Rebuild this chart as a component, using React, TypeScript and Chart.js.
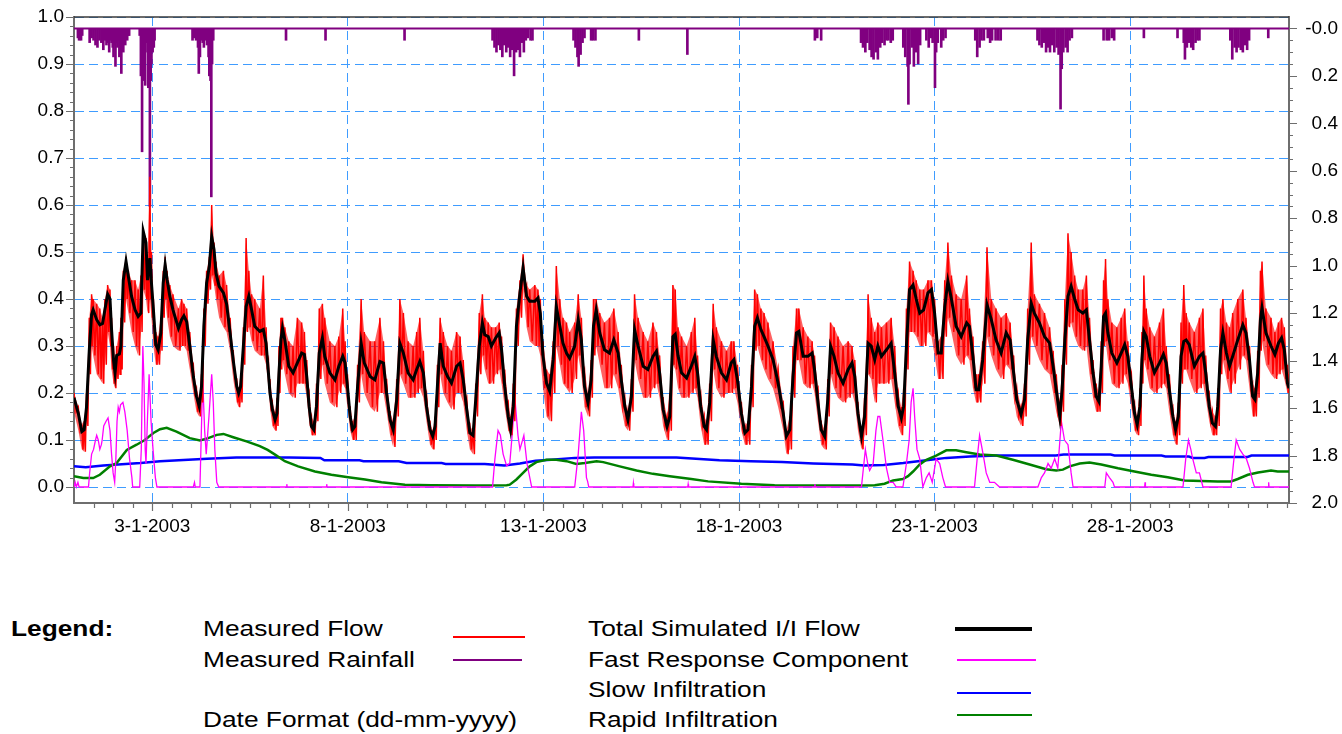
import React, { useEffect, useRef } from "react";
import { Chart, registerables } from "chart.js";

Chart.register(...registerables);

const FONT = "'Liberation Sans', Arial, Helvetica, sans-serif";

// x axis: days since 1-1-2003 00:00
const X_MAX = 31.06;
const xTickDays = [2, 7, 12, 17, 22, 27];
const xTickLabels = ["3-1-2003", "8-1-2003", "13-1-2003", "18-1-2003", "23-1-2003", "28-1-2003"];
const flowTicks = [0, 0.1, 0.2, 0.3, 0.4, 0.5, 0.6, 0.7, 0.8, 0.9, 1.0];
const rainTicks = [0, 0.2, 0.4, 0.6, 0.8, 1.0, 1.2, 1.4, 1.6, 1.8, 2.0];

// Total Simulated I/I Flow [day, value]
const simulatedFlow: number[][] = [
  [0,.19],[.11,.157],[.2,.118],[.26,.122],[.32,.17],[.39,.29],[.45,.367],[.49,.377],[.58,.356],[.66,.345],[.73,.348],[.79,.377],[.86,.41],[.92,.4],[.96,.335],[1.01,.27],[1.05,.243],[1.09,.28],[1.16,.283],[1.2,.3],[1.26,.44],[1.33,.48],[1.39,.448],[1.47,.406],[1.56,.377],[1.64,.363],[1.71,.37],[1.77,.544],[1.84,.52],[1.88,.44],[1.94,.487],[1.98,.434],[2.03,.377],[2.09,.303],[2.15,.292],[2.22,.328],[2.28,.434],[2.33,.473],[2.38,.441],[2.45,.406],[2.53,.377],[2.67,.338],[2.75,.356],[2.81,.364],[2.88,.352],[2.96,.3],[3.05,.235],[3.13,.193],[3.2,.172],[3.26,.214],[3.32,.342],[3.39,.434],[3.46,.47],[3.52,.533],[3.58,.505],[3.63,.455],[3.71,.427],[3.82,.413],[3.9,.39],[3.99,.328],[4.07,.27],[4.16,.214],[4.21,.2],[4.26,.214],[4.33,.3],[4.4,.384],[4.47,.406],[4.54,.377],[4.62,.342],[4.75,.331],[4.84,.335],[4.91,.306],[4.97,.243],
  [5.01,.2],[5.07,.165],[5.14,.143],[5.19,.157],[5.24,.243],[5.29,.313],[5.33,.338],[5.39,.313],[5.49,.257],[5.6,.243],[5.71,.264],[5.82,.285],[5.89,.282],[5.95,.235],[6.01,.172],[6.07,.129],[6.13,.122],[6.2,.172],[6.27,.285],[6.35,.317],[6.41,.278],[6.54,.243],[6.67,.228],[6.77,.257],[6.87,.278],[6.93,.264],[6.99,.214],[7.06,.15],[7.12,.122],[7.18,.129],[7.25,.214],[7.34,.306],[7.42,.264],[7.57,.235],[7.69,.228],[7.82,.267],[7.91,.264],[7.99,.2],[8.08,.143],[8.16,.122],[8.25,.186],[8.33,.306],[8.42,.285],[8.54,.243],[8.67,.228],[8.76,.25],[8.84,.267],[8.93,.243],[9.01,.172],[9.1,.122],[9.17,.108],[9.23,.129],[9.29,.214],[9.36,.306],[9.44,.257],[9.55,.235],[9.65,.221],[9.78,.257],[9.87,.264],[9.95,.228],[10.04,.165],[10.12,.115],[10.2,.11],
  [10.27,.186],[10.36,.3],[10.44,.349],[10.5,.324],[10.59,.32],[10.67,.3],[10.78,.317],[10.87,.328],[10.93,.292],[11.01,.214],[11.1,.15],[11.16,.122],[11.23,.172],[11.31,.342],[11.4,.413],[11.48,.466],[11.57,.406],[11.65,.395],[11.78,.395],[11.86,.402],[11.92,.37],[11.99,.278],[12.08,.221],[12.16,.204],[12.25,.271],[12.33,.384],[12.42,.342],[12.5,.306],[12.59,.285],[12.67,.274],[12.8,.3],[12.89,.356],[12.97,.313],[13.05,.214],[13.14,.179],[13.22,.228],[13.28,.342],[13.35,.377],[13.44,.328],[13.56,.292],[13.69,.285],[13.8,.313],[13.91,.285],[13.99,.228],[14.08,.172],[14.16,.143],[14.25,.193],[14.33,.335],[14.42,.3],[14.55,.257],[14.67,.25],[14.8,.278],[14.89,.289],[14.97,.243],[15.06,.165],[15.16,.129],[15.23,.15],[15.31,.32],[15.37,.325],[15.44,.28],[15.53,.243],
  [15.66,.232],[15.78,.257],[15.87,.278],[15.94,.243],[16.02,.172],[16.11,.129],[16.17,.122],[16.25,.179],[16.34,.313],[16.42,.278],[16.55,.243],[16.68,.228],[16.8,.264],[16.87,.271],[16.96,.228],[17.06,.157],[17.15,.115],[17.23,.122],[17.32,.214],[17.4,.342],[17.47,.36],[17.56,.335],[17.64,.32],[17.74,.3],[17.87,.271],[18,.221],[18.13,.157],[18.21,.108],[18.3,.122],[18.38,.235],[18.47,.328],[18.53,.331],[18.64,.278],[18.76,.278],[18.87,.285],[18.93,.25],[19.02,.179],[19.1,.122],[19.19,.108],[19.27,.186],[19.34,.3],[19.43,.278],[19.53,.243],[19.66,.221],[19.79,.25],[19.89,.264],[19.96,.235],[20.04,.157],[20.13,.108],[20.21,.15],[20.3,.306],[20.38,.3],[20.47,.271],[20.55,.3],
  [20.64,.278],[20.77,.292],[20.89,.306],[20.98,.243],[21.07,.172],[21.15,.147],[21.21,.172],[21.28,.3],[21.36,.42],[21.45,.43],[21.53,.4],[21.62,.37],[21.72,.377],[21.83,.413],[21.92,.42],[22,.37],[22.09,.285],[22.17,.285],[22.26,.384],[22.34,.438],[22.43,.4],[22.55,.342],[22.68,.32],[22.82,.349],[22.89,.342],[22.98,.278],[23.06,.207],[23.13,.207],[23.23,.271],[23.34,.388],[23.45,.356],[23.57,.313],[23.7,.285],[23.83,.328],[23.93,.313],[24.02,.243],[24.1,.186],[24.21,.154],[24.3,.186],[24.38,.313],[24.47,.391],[24.55,.37],[24.68,.349],[24.81,.32],[24.94,.306],[25.03,.257],[25.11,.207],[25.2,.15],[25.26,.207],[25.33,.313],[25.41,.406],[25.49,.427],[25.58,.4],[25.67,.377],[25.79,.37],
  [25.88,.377],[25.96,.313],[26.05,.243],[26.13,.193],[26.2,.182],[26.26,.257],[26.32,.363],[26.37,.37],[26.43,.328],[26.53,.285],[26.66,.264],[26.77,.285],[26.86,.303],[26.94,.278],[27.03,.214],[27.11,.157],[27.18,.133],[27.25,.172],[27.3,.271],[27.35,.331],[27.41,.32],[27.5,.278],[27.62,.243],[27.75,.264],[27.85,.282],[27.92,.264],[28,.207],[28.09,.15],[28.16,.122],[28.23,.15],[28.3,.278],[28.37,.31],[28.43,.313],[28.51,.303],[28.64,.257],[28.77,.278],[28.86,.285],[28.93,.243],[29.02,.172],[29.1,.136],[29.18,.129],[29.24,.172],[29.31,.292],[29.37,.328],[29.46,.285],[29.54,.257],[29.62,.278],[29.75,.313],[29.88,.345],[29.96,.328],[30.05,.271],[30.13,.193],[30.19,.186],[30.26,.243],[30.33,.356],[30.37,.381],[30.47,.328],[30.6,.3],[30.7,.282],[30.79,.306],[30.87,.317],[30.94,.292],[31.02,.221],[31.06,.21]
];

// Measured Flow [day, upper spike, lower spike]
const measuredFlow: number[][] = [
  [0,.2,.16],[.11,.17,.12],[.2,.13,.08],[.26,.14,.075],[.32,.2,.13],[.39,.36,.24],[.45,.41,.3],[.49,.4,.28],[.58,.39,.24],[.66,.38,.23],[.73,.36,.22],[.79,.4,.26],[.86,.43,.33],[.92,.42,.3],[.96,.36,.25],[1.01,.3,.22],[1.05,.26,.21],[1.09,.3,.23],[1.16,.33,.24],[1.2,.36,.25],[1.26,.46,.35],[1.33,.49,.4],[1.39,.46,.37],[1.47,.44,.33],[1.56,.44,.3],[1.64,.42,.28],[1.71,.45,.33],[1.77,.55,.42],[1.84,.53,.4],[1.88,.48,.37],[1.94,.66,.4],[1.98,.5,.36],[2.03,.4,.3],[2.09,.33,.26],[2.15,.32,.26],[2.22,.36,.29],[2.28,.46,.36],[2.33,.49,.4],[2.38,.46,.36],[2.45,.43,.32],[2.53,.41,.3],[2.67,.38,.29],[2.75,.4,.3],[2.81,.39,.3],[2.88,.38,.29],[2.96,.33,.25],[3.05,.26,.2],[3.13,.21,.16],[3.2,.19,.15],[3.26,.24,.18],[3.32,.38,.3],[3.39,.46,.39],[3.46,.49,.42],[3.52,.6,.45],[3.58,.52,.43],[3.63,.48,.4],[3.71,.45,.36],[3.82,.46,.34],[3.9,.43,.33],[3.99,.36,.29],[4.07,.29,.23],[4.16,.23,.18],[4.21,.21,.17],[4.26,.23,.18],[4.33,.34,.26],[4.4,.53,.33],[4.47,.46,.34],[4.54,.41,.31],[4.62,.4,.29],[4.75,.38,.28],[4.84,.45,.28],[4.91,.34,.26],[4.97,.27,.21],
  [5.01,.23,.17],[5.07,.18,.13],[5.14,.16,.12],[5.19,.19,.13],[5.24,.3,.2],[5.29,.36,.25],[5.33,.36,.27],[5.39,.34,.24],[5.49,.31,.2],[5.6,.3,.19],[5.71,.36,.22],[5.82,.35,.22],[5.89,.33,.22],[5.95,.27,.19],[6.01,.2,.14],[6.07,.15,.11],[6.13,.14,.11],[6.2,.22,.14],[6.27,.38,.23],[6.35,.39,.26],[6.41,.36,.22],[6.54,.31,.18],[6.67,.3,.17],[6.77,.32,.2],[6.87,.38,.22],[6.93,.31,.21],[6.99,.24,.17],[7.06,.17,.12],[7.12,.14,.1],[7.18,.15,.1],[7.25,.26,.18],[7.34,.4,.24],[7.42,.33,.2],[7.57,.31,.17],[7.69,.31,.16],[7.82,.36,.2],[7.91,.31,.2],[7.99,.23,.16],[8.08,.16,.11],[8.16,.14,.085],[8.25,.23,.15],[8.33,.4,.24],[8.42,.37,.22],[8.54,.31,.19],[8.67,.3,.19],[8.76,.33,.2],[8.84,.36,.21],[8.93,.29,.19],[9.01,.2,.14],[9.1,.14,.09],[9.17,.12,.08],[9.23,.15,.1],[9.29,.26,.17],[9.36,.36,.24],[9.44,.33,.2],[9.55,.3,.18],[9.65,.29,.165],[9.78,.33,.2],[9.87,.32,.2],[9.95,.27,.18],[10.04,.19,.12],[10.12,.13,.08],[10.2,.12,.07],
  [10.27,.22,.15],[10.36,.37,.24],[10.44,.41,.28],[10.5,.36,.25],[10.59,.35,.22],[10.67,.34,.22],[10.78,.34,.24],[10.87,.35,.25],[10.93,.32,.22],[11.01,.25,.17],[11.1,.18,.12],[11.16,.15,.11],[11.23,.22,.14],[11.31,.38,.3],[11.4,.44,.36],[11.48,.495,.42],[11.57,.43,.34],[11.65,.42,.31],[11.78,.43,.3],[11.86,.42,.3],[11.92,.4,.28],[11.99,.31,.21],[12.08,.25,.15],[12.16,.24,.14],[12.25,.31,.2],[12.33,.47,.3],[12.42,.4,.26],[12.5,.36,.22],[12.59,.35,.21],[12.67,.33,.2],[12.8,.35,.23],[12.89,.41,.28],[12.97,.36,.24],[13.05,.25,.17],[13.14,.2,.15],[13.22,.27,.19],[13.28,.4,.28],[13.35,.4,.3],[13.44,.37,.26],[13.56,.35,.21],[13.69,.36,.21],[13.8,.38,.24],[13.91,.33,.21],[13.99,.26,.17],[14.08,.19,.13],[14.16,.16,.12],[14.25,.23,.16],[14.33,.41,.27],[14.42,.36,.23],[14.55,.33,.19],[14.67,.31,.19],[14.8,.35,.21],[14.89,.33,.22],[14.97,.28,.19],[15.06,.19,.13],[15.16,.15,.1],[15.23,.2,.12],[15.31,.43,.26],[15.37,.42,.25],[15.44,.34,.21],[15.53,.32,.19],
  [15.66,.3,.19],[15.78,.33,.2],[15.87,.36,.21],[15.94,.28,.19],[16.02,.2,.13],[16.11,.15,.09],[16.17,.14,.09],[16.25,.22,.14],[16.34,.39,.25],[16.42,.34,.21],[16.55,.31,.19],[16.68,.29,.2],[16.8,.31,.2],[16.87,.31,.21],[16.96,.26,.18],[17.06,.18,.12],[17.15,.13,.09],[17.23,.14,.09],[17.32,.26,.17],[17.4,.42,.29],[17.47,.41,.3],[17.56,.38,.27],[17.64,.37,.25],[17.74,.35,.23],[17.87,.31,.21],[18,.25,.17],[18.13,.18,.12],[18.21,.12,.07],[18.3,.15,.08],[18.38,.3,.19],[18.47,.38,.27],[18.53,.38,.27],[18.64,.34,.22],[18.76,.32,.21],[18.87,.31,.22],[18.93,.28,.2],[19.02,.21,.14],[19.1,.14,.09],[19.19,.12,.08],[19.27,.23,.15],[19.34,.35,.24],[19.43,.34,.21],[19.53,.32,.19],[19.66,.3,.18],[19.79,.31,.19],[19.89,.3,.2],[19.96,.27,.18],[20.04,.18,.12],[20.13,.12,.08],[20.21,.19,.11],[20.3,.41,.24],[20.38,.36,.23],[20.47,.33,.18],[20.55,.35,.22],
  [20.64,.34,.22],[20.77,.35,.22],[20.89,.36,.23],[20.98,.3,.18],[21.07,.2,.13],[21.15,.17,.11],[21.21,.21,.13],[21.28,.38,.25],[21.36,.48,.33],[21.45,.46,.33],[21.53,.44,.32],[21.62,.42,.3],[21.72,.42,.3],[21.83,.44,.33],[21.92,.44,.32],[22,.4,.28],[22.09,.31,.23],[22.17,.32,.23],[22.26,.44,.32],[22.34,.52,.36],[22.43,.45,.33],[22.55,.41,.28],[22.68,.4,.26],[22.82,.45,.28],[22.89,.38,.27],[22.98,.32,.21],[23.06,.24,.18],[23.13,.24,.18],[23.23,.31,.22],[23.34,.51,.32],[23.45,.4,.28],[23.57,.38,.25],[23.7,.36,.23],[23.83,.37,.26],[23.93,.35,.25],[24.02,.28,.19],[24.1,.21,.15],[24.21,.17,.13],[24.3,.22,.15],[24.38,.38,.26],[24.47,.52,.32],[24.55,.41,.3],[24.68,.39,.27],[24.81,.37,.25],[24.94,.34,.24],[25.03,.29,.2],[25.11,.24,.16],[25.2,.18,.13],[25.26,.26,.16],[25.33,.4,.26],[25.41,.54,.34],[25.49,.5,.35],[25.58,.45,.32],[25.67,.42,.3],[25.79,.42,.29],
  [25.88,.45,.3],[25.96,.36,.24],[26.05,.27,.19],[26.13,.22,.16],[26.2,.2,.16],[26.26,.31,.2],[26.32,.44,.3],[26.37,.485,.31],[26.43,.4,.27],[26.53,.35,.22],[26.66,.34,.21],[26.77,.36,.22],[26.86,.38,.24],[26.94,.31,.22],[27.03,.24,.17],[27.11,.18,.12],[27.18,.15,.11],[27.25,.21,.13],[27.3,.33,.22],[27.35,.45,.27],[27.41,.38,.25],[27.5,.34,.21],[27.62,.32,.2],[27.75,.35,.21],[27.85,.38,.22],[27.92,.3,.21],[28,.24,.16],[28.09,.17,.11],[28.16,.14,.09],[28.23,.18,.11],[28.3,.35,.22],[28.37,.43,.25],[28.43,.37,.25],[28.51,.35,.23],[28.64,.33,.2],[28.77,.36,.21],[28.86,.38,.22],[28.93,.28,.19],[29.02,.2,.14],[29.1,.16,.11],[29.18,.15,.11],[29.24,.21,.13],[29.31,.38,.24],[29.37,.4,.27],[29.46,.35,.23],[29.54,.34,.2],[29.62,.37,.22],[29.75,.4,.25],[29.88,.42,.28],[29.96,.36,.27],[30.05,.3,.21],[30.13,.22,.15],[30.19,.21,.15],[30.26,.29,.19],[30.33,.46,.29],[30.37,.48,.31],[30.47,.38,.26],[30.6,.36,.24],[30.7,.33,.23],[30.79,.35,.24],[30.87,.36,.25],[30.94,.34,.23],[31.02,.26,.2],[31.06,.24,.2]
];

// Fast Response Component [day, value]
const fastResponse: number[][] = [
  [0,0],[.03,.01],[.06,0],[.1,.01],[.13,0],[.37,0],[.4,.03],[.45,.07],[.5,.08],[.55,.1],[.58,.11],[.62,.1],[.66,.08],[.7,.09],[.72,.1],[.76,.13],[.82,.14],[.87,.147],[.92,.12],[.96,.07],[1,.03],[1.04,.01],[1.07,.06],[1.1,.14],[1.13,.17],[1.16,.16],[1.19,.175],[1.25,.18],[1.3,.16],[1.36,.12],[1.42,.06],[1.48,.02],[1.5,0],[1.68,0],[1.72,.08],[1.76,.3],[1.79,.22],[1.82,.08],[1.84,.05],[1.88,.15],[1.92,.24],[1.97,.14],[2.02,.08],[2.08,.02],[2.12,0],
  [3.05,0],[3.08,.01],[3.1,0],[3.22,0],[3.25,.1],[3.29,.23],[3.34,.12],[3.38,.07],[3.45,.15],[3.52,.24],[3.56,.18],[3.6,.08],[3.65,.01],[3.7,0],
  [5.43,0],[5.44,.006],[5.45,0],[6.45,0],[6.46,.006],[6.47,0],
  [10.7,0],[10.76,.06],[10.84,.12],[10.9,.11],[10.97,.07],[11.06,.045],[11.14,.05],[11.21,.12],[11.27,.19],[11.35,.11],[11.4,.08],[11.5,.11],[11.58,.05],[11.7,0],
  [12.8,0],[12.89,.07],[12.97,.16],[13.03,.12],[13.1,.02],[13.13,.012],[13.16,0],[14.29,0],[14.3,.008],[14.31,0],[15.69,0],[15.7,.006],[15.71,0],[18.93,0],[18.94,.006],[18.95,0],
  [20.13,0],[20.18,.04],[20.23,.08],[20.29,.05],[20.34,.035],[20.43,.05],[20.5,.12],[20.55,.15],[20.6,.15],[20.68,.1],[20.77,.04],[20.85,.01],[20.94,.01],[21.02,0],[21.19,0],[21.28,.05],[21.35,.1],[21.4,.18],[21.45,.21],[21.49,.15],[21.55,.08],[21.62,.06],[21.7,0],[21.79,.02],[21.86,.03],[21.94,.01],[22.04,.06],[22.13,.05],[22.21,.02],[22.28,0],
  [23.02,0],[23.1,.07],[23.15,.11],[23.24,.07],[23.32,.03],[23.41,.01],[23.53,.01],[23.66,0],
  [24.64,0],[24.73,.02],[24.81,.03],[24.9,.05],[24.98,.04],[25.07,.06],[25.15,.04],[25.24,.14],[25.32,.1],[25.41,.09],[25.49,.03],[25.54,0],
  [26.35,0],[26.39,.03],[26.47,.02],[26.56,.01],[26.6,0],[27.37,0],[27.38,.01],[27.39,0],
  [28.35,0],[28.42,.06],[28.49,.1],[28.55,.08],[28.6,.06],[28.69,.03],[28.77,.03],[28.86,0],
  [29.58,0],[29.64,.05],[29.71,.1],[29.8,.08],[29.88,.07],[29.97,.06],[30.05,.04],[30.14,.01],[30.18,0],[30.53,0],[30.54,.01],[30.55,0],[31.06,0]
];

// Slow Infiltration [day, value]
const slowInfiltration: number[][] = [
  [0,.044],[.3,.042],[.75,.046],[1.7,.051],[2.2,.055],[3.4,.06],[4.15,.063],[5.5,.063],[6.3,.062],[6.4,.057],[7.3,.057],[7.4,.055],[8.3,.055],[8.5,.051],[9.4,.051],[9.5,.049],[10.5,.049],[11,.046],[11.4,.05],[11.8,.056],[12.2,.058],[12.8,.062],[13.3,.063],[15.4,.063],[15.7,.061],[16.5,.057],[17.3,.055],[18.1,.053],[18.9,.05],[19.9,.048],[20.2,.046],[20.7,.047],[21.2,.051],[21.9,.058],[22.3,.062],[22.9,.065],[23.6,.067],[25.1,.067],[25.3,.069],[26.5,.069],[26.6,.067],[27.8,.067],[27.9,.065],[28.5,.065],[28.6,.062],[28.9,.062],[29,.064],[30,.064],[30.1,.067],[31.06,.067]
];

// Rapid Infiltration [day, value]
const rapidInfiltration: number[][] = [
  [0,.023],[.24,.019],[.49,.019],[.66,.026],[.92,.044],[1.09,.051],[1.35,.079],[1.6,.09],[1.81,.1],[2.03,.115],[2.2,.123],[2.37,.126],[2.62,.118],[2.96,.104],[3.22,.099],[3.43,.104],[3.65,.111],[3.82,.113],[4.07,.106],[4.41,.097],[4.75,.087],[4.95,.079],[5.14,.069],[5.39,.055],[5.73,.044],[6.16,.033],[6.58,.026],[7.01,.021],[7.44,.016],[7.86,.01],[8.46,.005],[9.14,.004],[10.25,.003],[11.06,.004],[11.14,.005],[11.31,.016],[11.48,.03],[11.65,.044],[11.82,.053],[12.08,.058],[12.33,.058],[12.59,.055],[12.84,.049],[13.06,.051],[13.36,.055],[13.53,.053],[13.95,.044],[14.38,.035],[14.8,.028],[15.23,.023],[15.78,.017],[16.21,.012],[17.06,.007],[17.91,.004],[18.76,.003],[20.13,.003],[20.47,.004],[20.72,.007],[20.94,.014],[21.19,.017],[21.32,.023],[21.45,.033],[21.62,.048],[21.79,.058],[22.04,.067],[22.3,.078],[22.55,.078],[22.81,.074],[23.15,.069],[23.58,.067],[24,.058],[24.43,.048],[24.85,.038],[25.11,.035],[25.28,.037],[25.45,.044],[25.71,.05],[25.96,.052],[26.26,.048],[26.69,.04],[27.11,.033],[27.54,.026],[27.96,.021],[28.39,.014],[28.81,.013],[29.24,.012],[29.58,.012],[29.75,.017],[30.01,.026],[30.27,.031],[30.6,.035],[30.77,.033],[31.06,.033]
];

// Measured Rainfall [day, depth] (right axis, inverted)
const rainfall: number[][] = [
  [.1,.04],[.13,.05],[.18,.05],[.21,.03],
  [.4,.06],[.45,.04],[.5,.05],[.55,.07],[.6,.08],[.65,.05],[.7,.06],[.75,.09],[.8,.05],[.83,.07],[.87,.06],[.9,.1],[.93,.05],[.96,.06],[.99,.08],[1.01,.12],[1.04,.07],[1.06,.16],[1.09,.06],[1.11,.08],[1.14,.05],[1.16,.12],[1.19,.07],[1.21,.19],[1.24,.06],[1.26,.1],[1.29,.05],[1.31,.07],[1.34,.04],[1.36,.05],[1.39,.03],[1.41,.03],
  [1.68,.03],[1.71,.2],[1.74,.52],[1.76,.15],[1.78,.22],[1.8,.1],[1.82,.24],[1.85,.06],[1.88,.1],[1.9,.25],[1.92,.12],[1.94,.75],[1.96,.22],[1.98,.15],[2.01,.1],[2.04,.08],[2.06,.05],
  [3.03,.05],[3.06,.04],[3.09,.03],[3.12,.05],[3.17,.08],[3.19,.19],[3.22,.12],[3.25,.05],[3.29,.06],[3.32,.08],[3.36,.05],[3.4,.07],[3.44,.12],[3.46,.2],[3.49,.22],[3.51,.71],[3.53,.15],[3.56,.05],
  [5.42,.05],[6.43,.05],[8.45,.05],
  [10.7,.05],[10.75,.08],[10.8,.1],[10.85,.07],[10.9,.09],[10.95,.12],[11,.07],[11.05,.1],[11.1,.08],[11.15,.12],[11.2,.09],[11.25,.2],[11.3,.1],[11.35,.09],[11.4,.12],[11.45,.06],[11.5,.1],[11.55,.05],[11.6,.04],[11.67,.05],[11.72,.05],
  [12.77,.05],[12.82,.08],[12.87,.12],[12.9,.16],[12.95,.11],[13,.06],[13.05,.04],[13.22,.05],[13.27,.05],[13.33,.05],[14.44,.05],
  [15.68,.11],[18.94,.05],[19,.04],[19.1,.05],
  [20.12,.06],[20.17,.08],[20.23,.1],[20.28,.06],[20.34,.09],[20.39,.12],[20.44,.13],[20.5,.1],[20.55,.13],[20.61,.08],[20.66,.06],[20.72,.07],[20.77,.05],[20.82,.05],[20.88,.06],[20.93,.05],
  [21.2,.08],[21.25,.12],[21.31,.16],[21.33,.32],[21.36,.15],[21.42,.08],[21.47,.16],[21.52,.1],[21.58,.15],[21.63,.07],
  [21.79,.05],[21.85,.08],[21.9,.04],[21.95,.06],[22.01,.25],[22.04,.1],[22.08,.06],[22.17,.08],[22.22,.05],[22.28,.04],
  [23.04,.05],[23.09,.12],[23.15,.08],[23.2,.05],[23.26,.05],[23.36,.04],[23.42,.06],[23.47,.05],[23.56,.05],[23.63,.05],[23.69,.05],
  [24.63,.05],[24.68,.07],[24.74,.08],[24.79,.06],[24.85,.1],[24.9,.08],[24.95,.1],[25.01,.07],[25.06,.1],[25.12,.08],[25.17,.11],[25.22,.34],[25.25,.17],[25.29,.1],[25.35,.08],[25.4,.1],[25.45,.05],[25.51,.04],
  [26.32,.05],[26.4,.05],[26.46,.05],[26.53,.04],[26.59,.05],[27.35,.04],
  [28.21,.04],[28.37,.06],[28.4,.13],[28.45,.08],[28.51,.06],[28.56,.08],[28.61,.09],[28.67,.06],[28.72,.05],[28.77,.05],
  [29.56,.05],[29.61,.13],[29.67,.08],[29.72,.1],[29.77,.08],[29.83,.09],[29.88,.1],[29.93,.07],[29.99,.09],[30.04,.05],[30.53,.04]
];

const AXIS_GREY = "#6e6e6e";
const GRID_BLUE = "#3f9cff";

const toPoints = (arr: number[][]) => arr.map(([x, y]) => ({ x, y }));

const axisDecor = {
  id: "axisDecor",
  afterDraw(chart: any) {
    const { ctx, chartArea: a, scales } = chart;
    const xs = scales.x, yl = scales.y, yr = scales.yRain;
    ctx.save();
    ctx.strokeStyle = "#3a3a3a";
    ctx.lineWidth = 1.5;
    ctx.beginPath();
    ctx.moveTo(a.left, a.top);
    ctx.lineTo(a.right, a.top);
    ctx.stroke();
    ctx.strokeStyle = AXIS_GREY;
    ctx.lineWidth = 1.2;
    ctx.beginPath();
    for (let i = 1; i * 0.5 < X_MAX; i++) {
      const d = i * 0.5;
      const x = Math.round(xs.getPixelForValue(d)) + 0.5;
      const len = xTickDays.indexOf(d) >= 0 ? 8 : 5;
      ctx.moveTo(x, a.bottom);
      ctx.lineTo(x, a.bottom + len);
    }
    for (let i = 0; i <= 50; i++) {
      const v = i * 0.02;
      const y = Math.round(yl.getPixelForValue(v)) + 0.5;
      const len = i % 5 === 0 ? 8 : 4;
      ctx.moveTo(a.left - len, y);
      ctx.lineTo(a.left, y);
    }
    for (let i = 0; i <= 40; i++) {
      const v = i * 0.05;
      const y = Math.round(yr.getPixelForValue(v)) + 0.5;
      const len = i % 4 === 0 ? 8 : 4;
      ctx.moveTo(a.right, y);
      ctx.lineTo(a.right + len, y);
    }
    ctx.stroke();
    ctx.restore();
  },
};

const noPad = (s: any) => {
  s.paddingTop = 0;
  s.paddingBottom = 0;
  s.paddingLeft = 0;
  s.paddingRight = 0;
};

export default function App() {
  const canvasRef = useRef<HTMLCanvasElement | null>(null);

  useEffect(() => {
    const canvas = canvasRef.current;
    if (!canvas) return;
    Chart.defaults.font.family = FONT;

    const measuredZig: { x: number; y: number }[] = [];
    measuredFlow.forEach(([d, hi, lo], i) => {
      const next = i + 1 < measuredFlow.length ? measuredFlow[i + 1][0] : d;
      measuredZig.push({ x: d, y: hi });
      measuredZig.push({ x: (d + next) / 2, y: lo });
    });
    const measuredHi = measuredFlow.map(([d, hi]) => ({ x: d, y: hi }));
    const measuredLo = measuredFlow.map(([d, , lo]) => ({ x: d, y: lo }));

    const tickFont = { family: FONT, size: 19 };

    const chart = new Chart(canvas, {
      type: "line",
      data: {
        datasets: [
          { label: "Total Simulated I/I Flow", data: toPoints(simulatedFlow), borderColor: "#000000", borderWidth: 3, xAxisID: "x", yAxisID: "y" },
          { label: "Measured Flow", data: measuredZig, borderColor: "#ff0000", borderWidth: 1.5, xAxisID: "x", yAxisID: "y" },
          { label: "Measured Flow upper", data: measuredHi, borderColor: "rgba(255,0,0,0)", borderWidth: 0, xAxisID: "x", yAxisID: "y" },
          { label: "Measured Flow lower", data: measuredLo, borderColor: "rgba(255,0,0,0)", borderWidth: 0, backgroundColor: "rgba(255,0,0,0.62)", fill: "-1", xAxisID: "x", yAxisID: "y" },
          { label: "Fast Response Component", data: toPoints(fastResponse), borderColor: "#ff00ff", borderWidth: 1.3, xAxisID: "x", yAxisID: "y" },
          { label: "Rapid Infiltration", data: toPoints(rapidInfiltration), borderColor: "#008000", borderWidth: 2.5, xAxisID: "x", yAxisID: "y" },
          { label: "Slow Infiltration", data: toPoints(slowInfiltration), borderColor: "#0000ff", borderWidth: 2.5, xAxisID: "x", yAxisID: "y" },
          { type: "bar", label: "Measured Rainfall", data: toPoints(rainfall), backgroundColor: "#800080", borderWidth: 0, barThickness: 2, xAxisID: "x", yAxisID: "yRain" } as any,
          { label: "Rainfall baseline", data: [{ x: 0, y: 0 }, { x: X_MAX, y: 0 }], borderColor: "#800080", borderWidth: 2, xAxisID: "x", yAxisID: "yRain" },
        ],
      },
      options: {
        animation: false,
        responsive: false,
        maintainAspectRatio: false,
        events: [],
        layout: { padding: { top: 17, right: 4, left: 0, bottom: 0 } },
        elements: { point: { radius: 0 }, line: { tension: 0 } },
        plugins: { legend: { display: false }, tooltip: { enabled: false }, filler: { propagate: false } },
        scales: {
          x: {
            type: "linear",
            position: "bottom",
            min: 0,
            max: X_MAX,
            offset: false,
            afterBuildTicks: (s: any) => { s.ticks = xTickDays.map((v) => ({ value: v })); },
            afterFit: (s: any) => { s.height = 57; noPad(s); },
            ticks: {
              autoSkip: false,
              maxRotation: 0,
              padding: 12,
              color: "#000",
              font: tickFont,
              callback: (_v: any, i: number) => xTickLabels[i],
            },
            grid: { color: GRID_BLUE, lineWidth: 1, drawTicks: false, offset: false },
            border: { display: true, color: AXIS_GREY, width: 2, dash: [9, 5] },
          },
          y: {
            type: "linear",
            position: "left",
            min: -0.034,
            max: 1.0,
            afterBuildTicks: (s: any) => { s.ticks = flowTicks.map((v) => ({ value: v })); },
            afterFit: (s: any) => { s.width = 74; noPad(s); },
            ticks: { padding: 10, color: "#000", font: tickFont, callback: (v: any) => Number(v).toFixed(1) },
            grid: { color: GRID_BLUE, lineWidth: 1, drawTicks: false },
            border: { display: true, color: AXIS_GREY, width: 2, dash: [9, 5] },
          },
          yRain: {
            type: "linear",
            position: "right",
            reverse: true,
            min: -0.048,
            max: 2.0,
            afterBuildTicks: (s: any) => { s.ticks = rainTicks.map((v) => ({ value: v })); },
            afterFit: (s: any) => { s.width = 49; noPad(s); },
            ticks: {
              padding: 17,
              crossAlign: "far",
              color: "#000",
              font: tickFont,
              callback: (v: any) => (Number(v) === 0 ? "-0.0" : Number(v).toFixed(1)),
            },
            grid: { display: false, drawTicks: false },
            border: { display: true, color: AXIS_GREY, width: 2 },
          },
        },
      } as any,
      plugins: [axisDecor],
    });
    return () => chart.destroy();
  }, []);

  const textBase: React.CSSProperties = {
    position: "absolute",
    fontFamily: FONT,
    fontSize: 22,
    lineHeight: "22px",
    whiteSpace: "nowrap",
    color: "#000",
    transform: "scaleX(1.195)",
    transformOrigin: "left top",
  };
  const label = (text: string, x: number, baseline: number, bold = false) => (
    <div key={text} style={{ ...textBase, left: x, top: baseline - 18.6, fontWeight: bold ? "bold" : "normal" }}>{text}</div>
  );
  const swatch = (key: string, x1: number, x2: number, y: number, h: number, color: string) => (
    <div key={key} style={{ position: "absolute", left: x1, width: x2 - x1, top: y - h / 2, height: h, background: color }} />
  );

  return (
    <div style={{ position: "absolute", left: 0, top: 0, width: 1342, height: 734, background: "#ffffff", overflow: "hidden" }}>
      <canvas ref={canvasRef} width={1342} height={560} style={{ position: "absolute", left: 0, top: 0, width: "1342px", height: "560px" }} />
      {label("Legend:", 11, 637, true)}
      {label("Measured Flow", 203, 637)}
      {label("Measured Rainfall", 203, 667.5)}
      {label("Date Format (dd-mm-yyyy)", 203, 728)}
      {label("Total Simulated I/I Flow", 588, 637)}
      {label("Fast Response Component", 588, 667.5)}
      {label("Slow Infiltration", 588, 698)}
      {label("Rapid Infiltration", 588, 728)}
      {swatch("s1", 453, 525, 637, 2, "#ff0000")}
      {swatch("s2", 453, 522, 660, 2, "#800080")}
      {swatch("s3", 955, 1032, 628.5, 4, "#000000")}
      {swatch("s4", 957, 1036, 659.5, 2, "#ff00ff")}
      {swatch("s5", 957, 1031, 693, 2, "#0000ff")}
      {swatch("s6", 957, 1032, 715, 2, "#008000")}
    </div>
  );
}
